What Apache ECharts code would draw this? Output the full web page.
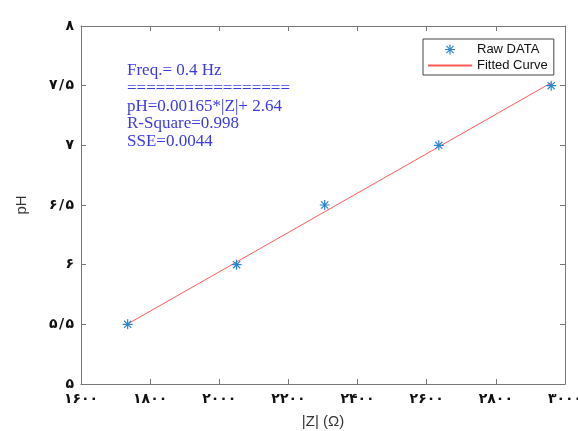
<!DOCTYPE html>
<html>
<head>
<meta charset="utf-8">
<script src="https://cdn.jsdelivr.net/npm/echarts@6/dist/echarts.min.js"></script>
<style>
  html, body { margin: 0; padding: 0; background: #fff; }
  #chart { width: 578px; height: 431px; }
</style>
</head>
<body>
<div id="chart"></div>
<script>
// Measured impedance magnitude |Z| (ohm) and the pH it corresponds to
const impedance = [1735, 2050, 2305, 2635, 2960];
const phValues = [5.5, 6.0, 6.5, 7.0, 7.5];

// Fitted line pH = slope*|Z| + intercept, drawn across the measured range
const fitSlope = 0.00165;
const fitIntercept = 2.64;
const fitRange = [1735, 2960];

// Annotation block
const annotationLines = [
  'Freq.= 0.4 Hz',
  '=================',
  'pH=0.00165*|Z|+ 2.64',
  'R-Square=0.998',
  'SSE=0.0044'
];

const xTicks = { min: 1600, max: 3000, step: 200 };
const yTicks = { min: 5, max: 8, step: 0.5 };

const persianDigits = '۰۱۲۳۴۵۶۷۸۹';
function toPersian(v) {
  return String(v).replace(/\d/g, d => persianDigits[+d]).replace('.', '\u200A/\u200A');
}

const fitLine = fitRange.map(x => [x, +(fitSlope * x + fitIntercept).toFixed(4)]);
const points = impedance.map((x, i) => [x, phValues[i]]);

// Asterisk marker (plus + cross)
const asterisk = 'path://M44 0H56V100H44Z M0 44H100V56H0Z M10 18L18 10L90 82L82 90Z M82 10L90 18L18 90L10 82Z';

const axisGray = '#777';
const chart = echarts.init(document.getElementById('chart'), null, { renderer: 'canvas' });

const tickFont = {
  fontFamily: 'DejaVu Sans', fontWeight: 'bold', fontSize: 14, color: '#111'
};

const frameAxis = {
  axisLine: { show: true, onZero: false, lineStyle: { color: axisGray, width: 1 } },
  axisTick: { show: true, inside: true, length: 5, lineStyle: { color: axisGray } },
  splitLine: { show: false }
};

chart.setOption({
  animation: false,
  backgroundColor: '#fff',
  grid: { left: 81, right: 13, top: 26, bottom: 47, containLabel: false, outerBoundsMode: 'none' },
  xAxis: [{
    type: 'value', min: xTicks.min, max: xTicks.max, interval: xTicks.step,
    position: 'bottom',
    name: '|Z| (Ω)', nameLocation: 'middle', nameGap: 30,
    nameTextStyle: { fontFamily: 'Liberation Sans', fontSize: 15, color: '#333' },
    ...frameAxis,
    axisLabel: { ...tickFont, margin: 8, formatter: v => toPersian(v) }
  }, {
    type: 'value', min: xTicks.min, max: xTicks.max, interval: xTicks.step,
    position: 'top',
    ...frameAxis,
    axisLabel: { show: false }
  }],
  yAxis: [{
    type: 'value', min: yTicks.min, max: yTicks.max, interval: yTicks.step,
    position: 'left',
    name: 'pH', nameLocation: 'middle', nameGap: 52,
    nameTextStyle: { fontFamily: 'Liberation Sans', fontSize: 15, color: '#333' },
    ...frameAxis,
    axisLabel: { ...tickFont, margin: 7, formatter: v => toPersian(v) }
  }, {
    type: 'value', min: yTicks.min, max: yTicks.max, interval: yTicks.step,
    position: 'right',
    ...frameAxis,
    axisLabel: { show: false }
  }],
  legend: {
    orient: 'vertical',
    left: 423, top: 39,
    padding: [4, 6, 3, 4],
    itemGap: 3,
    itemWidth: 44, itemHeight: 10,
    symbolKeepAspect: true,
    borderColor: '#444', borderWidth: 1, borderRadius: 0,
    backgroundColor: '#fff',
    textStyle: { fontFamily: 'Liberation Sans', fontSize: 13, color: '#111', padding: [0, 0, 0, 0] },
    data: [
      { name: 'Raw DATA', icon: asterisk },
      { name: 'Fitted Curve', itemStyle: { opacity: 0 } }
    ]
  },
  graphic: [{
    type: 'text',
    left: 127, top: 62,
    style: {
      text: annotationLines.join('\n'),
      fontFamily: 'Liberation Serif',
      fontSize: 17,
      lineHeight: 17.7,
      fill: '#3a3ae6'
    }
  }],
  series: [{
    name: 'Fitted Curve',
    type: 'line',
    data: fitLine,
    symbol: 'none',
    lineStyle: { color: '#ff5a5a', width: 1 },
    z: 2
  }, {
    name: 'Raw DATA',
    type: 'scatter',
    data: points,
    symbol: asterisk,
    symbolSize: 10,
    itemStyle: { color: '#2a86d0', opacity: 1 },
    z: 3
  }]
});
</script>
</body>
</html>
